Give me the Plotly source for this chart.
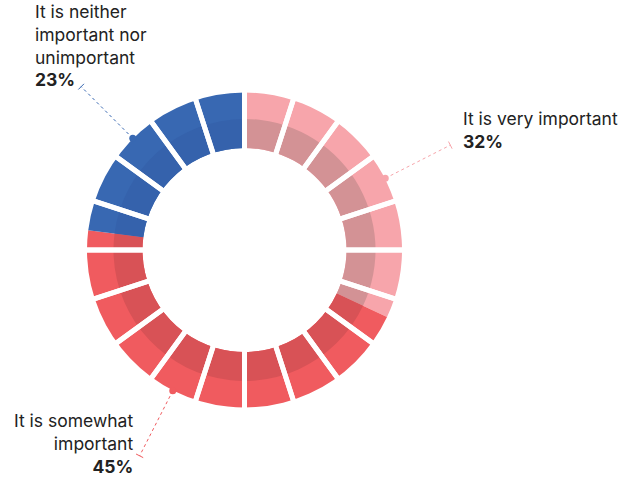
import math
import plotly.graph_objects as go

# data
labels = ["It is very important", "It is somewhat important", "It is neither important nor unimportant"]
values = [32, 45, 23]
label_text = ["It is very important", "It is somewhat<br>important", "It is neither<br>important nor<br>unimportant"]
pct_text = ["32%", "45%", "23%"]

colors = ["#F7A5AB", "#F05B5F", "#3868B2"]
shadow_colors = ["#D39295", "#D85256", "#3562AC"]
n_segments = 20

W, H = 619, 479
cx, cy = 244.5, 250           # ring centre in px
r_out, r_in, r_shadow = 157.5, 102, 131


def dom(r):
    return dict(x=[(cx - r) / W, (cx + r) / W], y=[1 - (cy + r) / H, 1 - (cy - r) / H])


def px(x, y):
    return x / W, 1 - y / H


fig = go.Figure()

# main ring
fig.add_trace(go.Pie(labels=labels, values=values, hole=r_in / r_out, domain=dom(r_out),
                     sort=False, direction="clockwise", rotation=0, textinfo="none",
                     marker=dict(colors=colors, line=dict(width=0)), showlegend=False))

# inner shadow band
fig.add_trace(go.Pie(labels=labels, values=values, hole=r_in / r_shadow, domain=dom(r_shadow),
                     sort=False, direction="clockwise", rotation=0, textinfo="none",
                     marker=dict(colors=shadow_colors, line=dict(width=0)), showlegend=False,
                     hoverinfo="skip"))

# white segment gaps
r_gap = 175
fig.add_trace(go.Pie(values=[1] * n_segments, labels=[str(i) for i in range(n_segments)],
                     hole=80 / r_gap, domain=dom(r_gap), sort=False, direction="clockwise",
                     rotation=0, textinfo="none",
                     marker=dict(colors=["rgba(0,0,0,0)"] * n_segments, line=dict(color="white", width=5)),
                     showlegend=False, hoverinfo="skip"))

# leader lines
leader_angles = [63, 207, 315]
r_a, r_b = 158, 231
shapes = []
for ang, col in zip(leader_angles, colors):
    a = math.radians(ang)
    x0, y0 = cx + r_a * math.sin(a), cy - r_a * math.cos(a)
    x1, y1 = cx + r_b * math.sin(a), cy - r_b * math.cos(a)
    p0, p1 = px(x0, y0), px(x1, y1)
    shapes.append(dict(type="line", xref="paper", yref="paper", x0=p0[0], y0=p0[1], x1=p1[0], y1=p1[1],
                       line=dict(color=col, width=1, dash="dot")))
    # end tick
    tx, ty = 4 * math.cos(a), 4 * math.sin(a)
    q0, q1 = px(x1 - tx, y1 - ty), px(x1 + tx, y1 + ty)
    shapes.append(dict(type="line", xref="paper", yref="paper", x0=q0[0], y0=q0[1], x1=q1[0], y1=q1[1],
                       line=dict(color=col, width=1)))
    # dot on ring
    d0, d1 = px(x0 - 3.5, y0 - 3.5), px(x0 + 3.5, y0 + 3.5)
    shapes.append(dict(type="circle", xref="paper", yref="paper", x0=d0[0], y0=d0[1], x1=d1[0], y1=d1[1],
                       fillcolor=col, line=dict(width=0)))

font = dict(family="Inter, Roboto, sans-serif", size=17.5, color="#222222")
ann_pos = [(461, 106, "left"), (135, 408, "right"), (33, -1, "left")]
annotations = []
for (x, y, side), t, p in zip(ann_pos, label_text, pct_text):
    ax, ay = px(x, y)
    annotations.append(dict(xref="paper", yref="paper", x=ax, y=ay, xanchor=side, yanchor="top",
                            align=side, showarrow=False, font=font,
                            text=t + "<br><b>" + p + "</b>"))

fig.update_layout(width=W, height=H, margin=dict(l=0, r=0, t=0, b=0),
                  paper_bgcolor="white", plot_bgcolor="white",
                  shapes=shapes, annotations=annotations, showlegend=False)

fig.write_html("out.html", config={"displayModeBar": False},
               post_script="document.body.style.margin='0';")
